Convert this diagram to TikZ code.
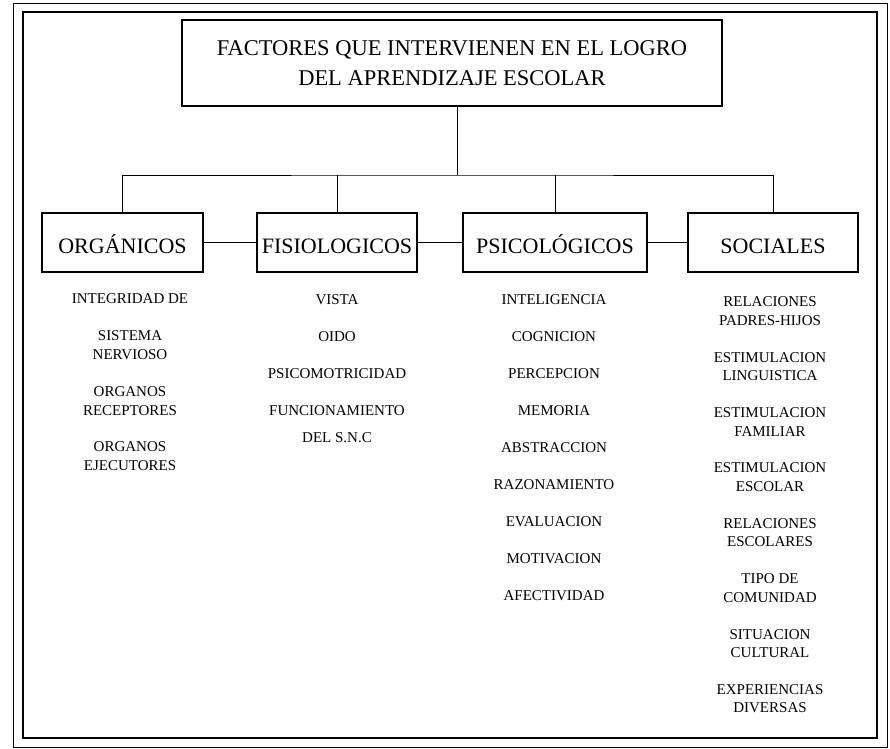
\documentclass[tikz,border=0pt]{standalone}
\usepackage{fontspec}
\setmainfont{Liberation Serif}
\usetikzlibrary{positioning}
\tikzset{%
	block/.style    = {draw, rectangle, line width=1.6pt, minimum height=59pt, inner sep=0pt, text height=22pt, text depth=0pt, font=\fontsize{22}{26}\selectfont}, % Factor
	header/.style   = {draw, rectangle, line width=1.6pt, minimum width=540pt, minimum height=86pt, align=center, font=\fontsize{22.5}{30}\selectfont}, % Title
	item/.style     = {align=center, inner sep=0pt, font=\fontsize{15}{18.5}\selectfont}, % List entry
	waypoint/.style = {coordinate}, % Junction
	link/.style     = {line width=0.8pt},
}
\begin{document}
\begin{tikzpicture}[x=1pt, y=-1pt, node distance=37pt]
	\useasboundingbox (0,0) rectangle (890,748);
	\draw[line width=0.5pt] (13,3) rectangle (887,747);
	\draw[line width=1.6pt] (23,12) rectangle (877,738);
	\node[header] (title) at (452,63) {FACTORES QUE INTERVIENEN EN EL LOGRO\\DEL APRENDIZAJE ESCOLAR};
	\node[waypoint] (bus) at (457,175) {};
	\node[block, minimum width=161pt] (org) at (122.5,242.5) {ORGÁNICOS};
	\node[block, minimum width=160pt] (fis) at (337,242.5) {FISIOLOGICOS};
	\node[block, minimum width=184pt] (psi) at (555,242.5) {PSICOLÓGICOS};
	\node[block, minimum width=170pt] (soc) at (773,242.5) {SOCIALES};
	\draw[link] (title.south -| bus) -- (bus);
	\draw[link] (org.north) |- (bus) -| (soc.north);
	\draw[link] (fis.north) -- (fis.north |- bus);
	\draw[link] (psi.north) -- (psi.north |- bus);
	\draw[link] (org.east) -- (fis.west);
	\draw[link] (fis.east) -- (psi.west);
	\draw[link] (psi.east) -- (soc.west);
	% organicos
	\node[item] (o1) at (130,299) {INTEGRIDAD DE};
	\node[item, below of=o1, node distance=46pt] (o2) {SISTEMA\\NERVIOSO};
	\node[item, below of=o2, node distance=56pt] (o3) {ORGANOS\\RECEPTORES};
	\node[item, below of=o3, node distance=55pt] (o4) {ORGANOS\\EJECUTORES};
	% fisiologicos
	\node[item] (f1) at (337,300) {VISTA};
	\node[item, below of=f1] (f2) {OIDO};
	\node[item, below of=f2] (f3) {PSICOMOTRICIDAD};
	\node[item, below of=f3] (f4) {FUNCIONAMIENTO};
	\node[item, below of=f4, node distance=27pt] (f5) {DEL S.N.C};
	% psicologicos
	\node[item] (p1) at (554,300) {INTELIGENCIA};
	\node[item, below of=p1] (p2) {COGNICION};
	\node[item, below of=p2] (p3) {PERCEPCION};
	\node[item, below of=p3] (p4) {MEMORIA};
	\node[item, below of=p4] (p5) {ABSTRACCION};
	\node[item, below of=p5] (p6) {RAZONAMIENTO};
	\node[item, below of=p6] (p7) {EVALUACION};
	\node[item, below of=p7] (p8) {MOTIVACION};
	\node[item, below of=p8] (p9) {AFECTIVIDAD};
	% sociales
	\node[item] (s1) at (770,311) {RELACIONES\\PADRES-HIJOS};
	\node[item, below of=s1, node distance=55.4pt] (s2) {ESTIMULACION\\LINGUISTICA};
	\node[item, below of=s2, node distance=55.4pt] (s3) {ESTIMULACION\\FAMILIAR};
	\node[item, below of=s3, node distance=55.4pt] (s4) {ESTIMULACION\\ESCOLAR};
	\node[item, below of=s4, node distance=55.4pt] (s5) {RELACIONES\\ESCOLARES};
	\node[item, below of=s5, node distance=55.4pt] (s6) {TIPO DE\\COMUNIDAD};
	\node[item, below of=s6, node distance=55.4pt] (s7) {SITUACION\\CULTURAL};
	\node[item, below of=s7, node distance=55.4pt] (s8) {EXPERIENCIAS\\DIVERSAS};
\end{tikzpicture}
\end{document}
